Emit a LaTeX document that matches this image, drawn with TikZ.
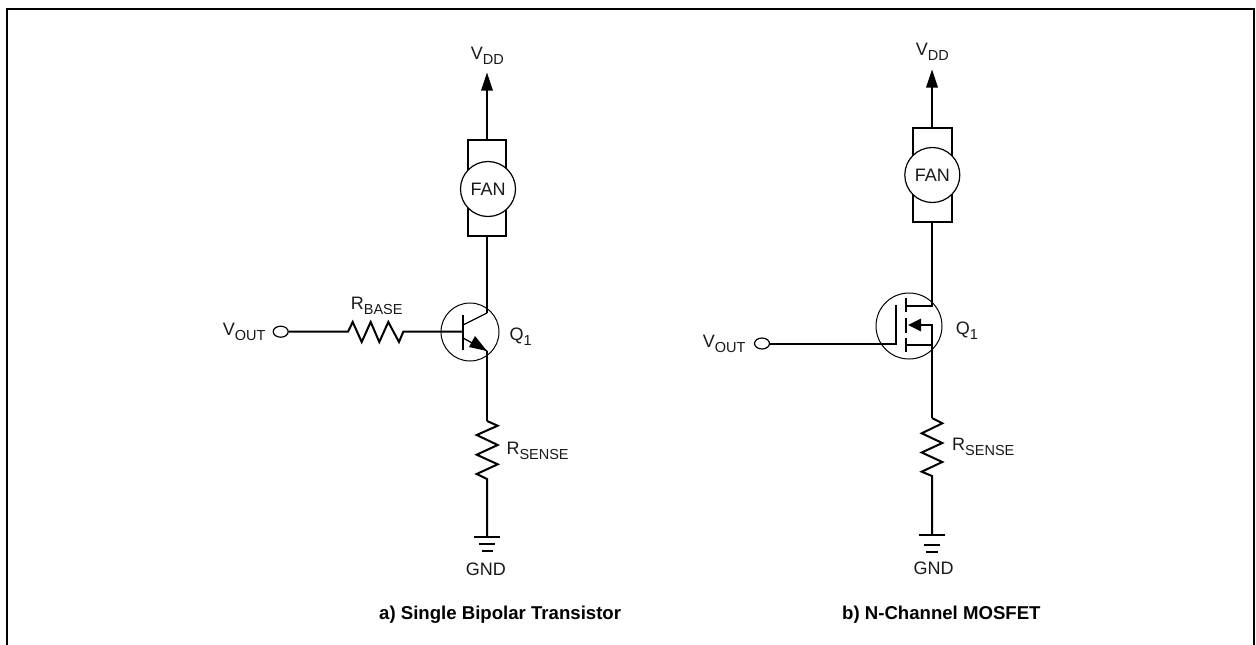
\documentclass[tikz,border=0pt]{standalone}
\usepackage{fontspec}
\setmainfont{Liberation Sans}
\usetikzlibrary{shapes.geometric}
\tikzset{
  x=1pt,y=-1pt,
  wire/.style={line width=2pt,line join=miter},
  thinwire/.style={line width=1.3pt},
  ring/.style={circle,draw,line width=1pt,fill=none,inner sep=0pt},
  fanring/.style={circle,draw,line width=1.2pt,fill=white,minimum size=55pt,inner sep=0pt,font=\fontsize{18}{20}\selectfont,text=black!90},
  lbl/.style={font=\fontsize{18}{20}\selectfont,inner sep=0pt,text=black!90,anchor=base west},
  captext/.style={font=\fontsize{18.6}{20}\selectfont\bfseries,inner sep=0pt,anchor=base west},
  terminal/.style={ellipse,draw,line width=1.2pt,minimum width=15pt,minimum height=11pt,inner sep=0pt,fill=white},
}
\newcommand{\vs}[2]{#1\raisebox{-5pt}{\fontsize{14.5}{15}\selectfont #2}}
\begin{document}
\begin{tikzpicture}
\useasboundingbox (0,0) rectangle (1256,645);
\fill[white] (0,0) rectangle (1256,645);
% frame
\draw[line width=2pt] (7,645) -- (7,9) -- (1253.5,9) -- (1253.5,645);

% ---- left circuit
\draw[wire] (487,140) -- (487,88);
\fill (487,72.5) -- (493,90.7) -- (481,90.7) -- cycle;
\draw[wire] (468,140) rectangle (506,236);
\node[fanring] (lfan) at (488,189) {FAN};
\node[lbl] (lvdd) at (470.7,59.3) {\vs{V}{DD}};
\node[ring,minimum size=58pt] (lq) at (470,332) {};
\draw[wire] (487,236) -- (487,313);
\draw[thinwire] (487,313) -- (463,325);
\draw[thinwire] (487,351) -- (463,338);
\fill (487,351) -- (469,347) -- (475,336) -- cycle;
\draw[wire] (463,315) -- (463,350);
\draw[wire] (487,351) -- (487,421);
\node[terminal] (lterm) at (280.7,331.7) {};
\draw[wire] (lterm.east) -- (348,331.7) -- (352.7,322) -- (361.7,342) -- (370.7,322) -- (379.3,342) -- (388.3,322) -- (399,342) -- (403.3,331.7) -- (463,331.7);
\node[lbl] (lrbase) at (350.7,309.3) {\vs{R}{BASE}};
\node[lbl] (lvout) at (222.7,335.7) {\vs{V}{OUT}};
\node[lbl] (lq1) at (509.3,340.7) {\vs{Q}{1}};
\draw[wire] (487,421) -- (497.7,425.7) -- (476.7,435) -- (497.7,445) -- (476.7,454.7) -- (497.7,464.3) -- (476.7,474) -- (487,479) -- (487,537);
\node[lbl] (lrs) at (506.3,454.3) {\vs{R}{SENSE}};
\draw[wire] (474,537) -- (500,537);
\draw[wire] (479,544) -- (495,544);
\draw[wire] (481.5,551) -- (492.5,551);
\node[lbl] (lgnd) at (465.7,575.7) {GND};
\node[captext] (lcap) at (379,619) {a) Single Bipolar Transistor};

% ---- right circuit
\draw[wire] (932,128) -- (932,76);
\fill (932,69.5) -- (938,87.5) -- (926,87.5) -- cycle;
\draw[wire] (913,128) rectangle (952,222);
\node[fanring] (rfan) at (932.3,175) {FAN};
\node[lbl] (rvdd) at (915.7,55) {\vs{V}{DD}};
\node[ring,minimum size=66pt] (rq) at (909,326) {};
\draw[wire] (932,222) -- (932,306) -- (906,306);
\draw[wire] (906,298) -- (906,312);
\draw[wire] (906,318) -- (906,333);
\draw[wire] (906,338) -- (906,352);
\draw[wire] (920,325) -- (932,325) -- (932,418);
\draw[wire] (906,345) -- (932,345);
\fill (908,325) -- (921,318.5) -- (921,331.5) -- cycle;
\node[terminal] (rterm) at (762,343.5) {};
\draw[wire] (rterm.east) -- (896,343.5) -- (896,305);
\node[lbl] (rvout) at (702.7,347.7) {\vs{V}{OUT}};
\node[lbl] (rq1) at (955.7,334) {\vs{Q}{1}};
\draw[wire] (932,418) -- (942.3,423.3) -- (921.7,433.3) -- (942.3,443) -- (921.7,452.5) -- (942.3,462) -- (921.7,471.7) -- (932,476) -- (932,535);
\node[lbl] (rrs) at (952,450) {\vs{R}{SENSE}};
\draw[wire] (919,535) -- (945,535);
\draw[wire] (924,544.5) -- (940,544.5);
\draw[wire] (926,552) -- (938,552);
\node[lbl] (rgnd) at (913.3,574.3) {GND};
\node[captext] (rcap) at (842,619) {b) N-Channel MOSFET};
\end{tikzpicture}
\end{document}
